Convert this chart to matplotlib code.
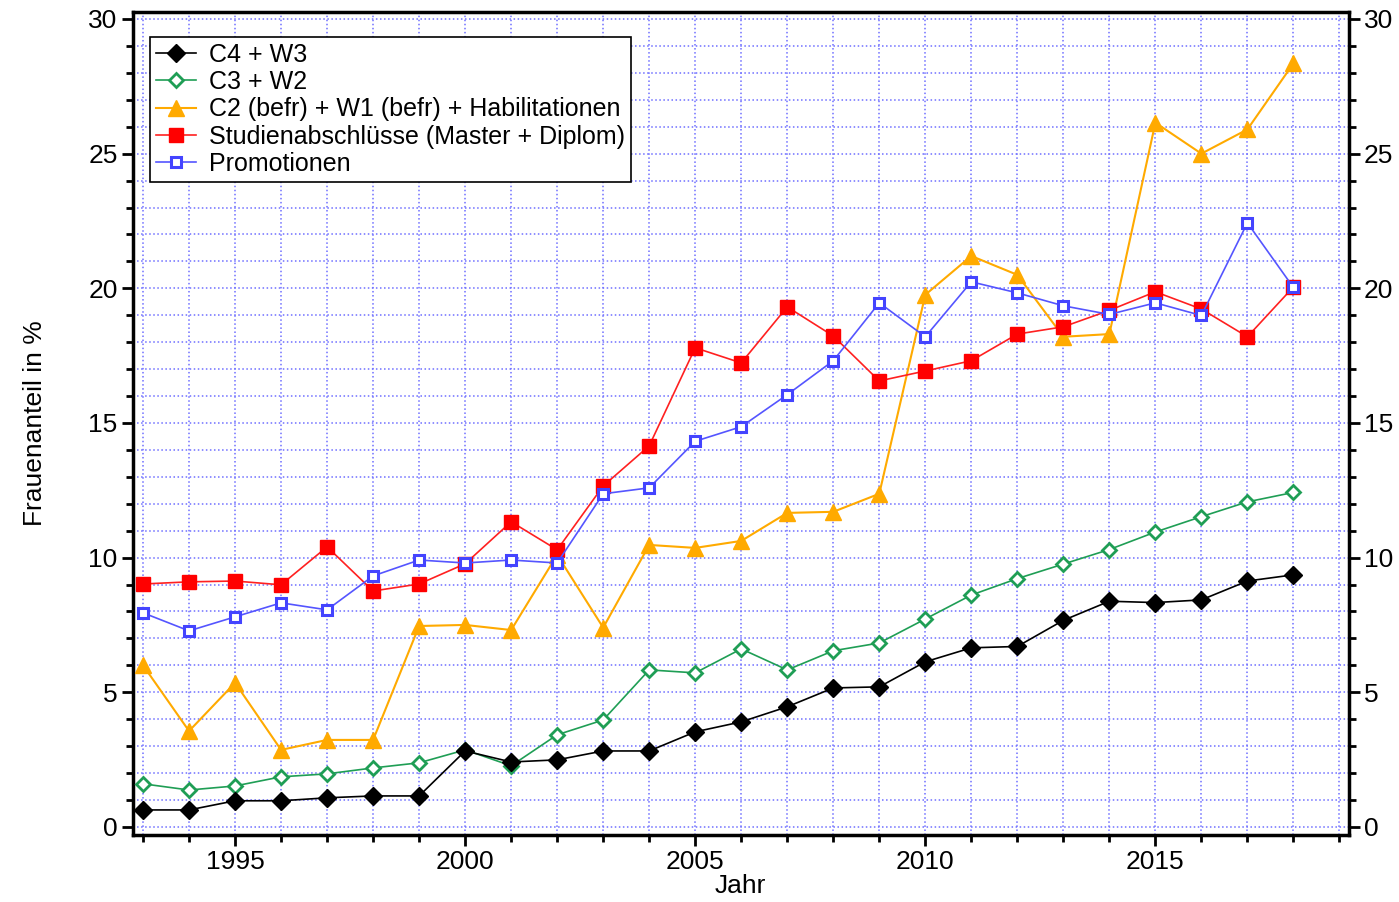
import matplotlib.pyplot as plt
from matplotlib.ticker import MultipleLocator

plt.rcParams['font.family'] = ['Liberation Sans', 'DejaVu Sans']

years = list(range(1993, 2019))

c4_w3 = [0.63, 0.63, 0.97, 0.97, 1.08, 1.15, 1.15, 2.82, 2.41, 2.49, 2.82, 2.82, 3.53,
         3.9, 4.46, 5.16, 5.2, 6.13, 6.65, 6.7, 7.67, 8.38, 8.33, 8.43, 9.13, 9.36]
c3_w2 = [1.6, 1.37, 1.52, 1.86, 1.97, 2.19, 2.38, 2.86, 2.27, 3.42, 3.97, 5.83, 5.72,
         6.61, 5.83, 6.54, 6.83, 7.72, 8.61, 9.22, 9.76, 10.3, 10.95, 11.52, 12.07, 12.42]
c2_w1_hab = [6.0, 3.56, 5.35, 2.86, 3.23, 3.23, 7.46, 7.5, 7.31, 10.1, 7.4, 10.47, 10.36,
             10.62, 11.66, 11.7, 12.37, 19.76, 21.2, 20.5, 18.2, 18.3, 26.15, 25.0, 25.9, 28.35]
studium = [9.02, 9.1, 9.13, 8.99, 10.4, 8.76, 9.02, 9.77, 11.33, 10.29, 12.66, 14.15, 17.79,
           17.23, 19.31, 18.23, 16.56, 16.93, 17.31, 18.3, 18.57, 19.18, 19.87, 19.23, 18.2, 20.05]
promotion = [7.95, 7.28, 7.8, 8.32, 8.06, 9.32, 9.91, 9.8, 9.91, 9.8, 12.37, 12.59, 14.32,
             14.86, 16.05, 17.31, 19.46, 18.2, 20.24, 19.83, 19.35, 19.03, 19.46, 18.99, 22.43, 20.03]

labels = ['C4 + W3', 'C3 + W2', 'C2 (befr) + W1 (befr) + Habilitationen',
          'Studienabschlüsse (Master + Diplom)', 'Promotionen']

fig = plt.figure(figsize=(13.99, 9.02), dpi=100)
ax = fig.add_axes([0.095, 0.0743, 0.869, 0.9124])

ax.plot(years, c4_w3, color='black', lw=1.2, marker='D', ms=9, mfc='black', mec='black',
        label=labels[0], zorder=5)
ax.plot(years, c3_w2, color='#1f9e55', lw=1.2, marker='D', ms=7.5, mfc='white', mec='#1f9e55',
        mew=2, label=labels[1], zorder=4)
ax.plot(years, c2_w1_hab, color='#ffaa00', lw=1.5, marker='^', ms=12, mfc='#ffaa00', mec='#ffaa00',
        label=labels[2], zorder=3)
ax.plot(years, studium, color='#ff2020', lw=1.2, marker='s', ms=10, mfc='#ff0000', mec='#ff0000',
        label=labels[3], zorder=3)
ax.plot(years, promotion, color='#5555ff', lw=1.2, marker='s', ms=7.5, mfc='white', mec='#4444ff',
        mew=2.2, label=labels[4], zorder=4)

ax.set_xlim(1992.78, 2019.2)
ax.set_ylim(-0.3, 30.26)
ax.xaxis.set_major_locator(MultipleLocator(5))
ax.xaxis.set_minor_locator(MultipleLocator(1))
ax.yaxis.set_major_locator(MultipleLocator(5))
ax.yaxis.set_minor_locator(MultipleLocator(1))

ax.grid(True, which='both', color='#6f6fff', linestyle=':', lw=1.1)
ax.set_axisbelow(True)

ax.tick_params(which='both', direction='out', labelsize=19, top=False,
               right=True, labelright=True, width=2, pad=3)
ax.tick_params(which='major', length=8)
ax.tick_params(which='minor', length=5)
for s in ax.spines.values():
    s.set_linewidth(2.5)

ax.set_xlabel('Jahr', fontsize=19, labelpad=0)
ax.set_ylabel('Frauenanteil in %', fontsize=19, labelpad=30)

leg = ax.legend(loc='upper left', fontsize=18, labelspacing=0.13, handlelength=1.6,
                handletextpad=0.5, borderpad=0.25, borderaxespad=0, fancybox=False,
                framealpha=1, bbox_to_anchor=(0.014, 0.97))
leg.get_frame().set_edgecolor('black')
leg.get_frame().set_linewidth(1.2)

fig.savefig('out.png', dpi=100)
